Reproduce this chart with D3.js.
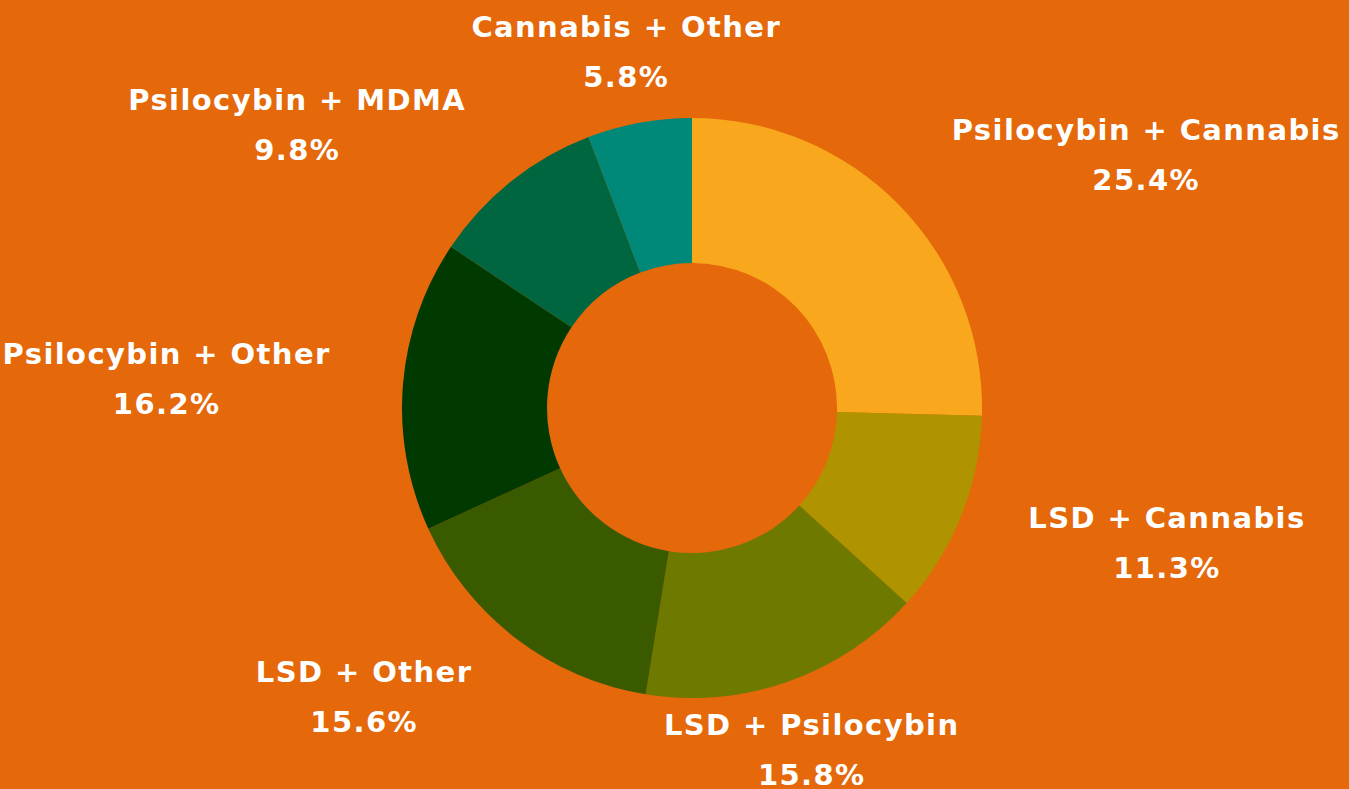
<!DOCTYPE html>
<html>
<head>
<meta charset="utf-8">
<script src="https://cdn.jsdelivr.net/npm/d3@7"></script>
<style>
  html, body { margin: 0; padding: 0; background: #e5680a; }
  svg { display: block; }
  .lbl { font-family: "DejaVu Sans", sans-serif; font-weight: bold; fill: #fff; letter-spacing: 1.4px; }
</style>
</head>
<body>
<svg id="chart"></svg>
<script>
// data (share of respondents, %)
var categories = ["Psilocybin + Cannabis", "LSD + Cannabis", "LSD + Psilocybin", "LSD + Other",
                  "Psilocybin + Other", "Psilocybin + MDMA", "Cannabis + Other"];
var shares = [25.4, 11.3, 15.8, 15.6, 16.2, 9.8, 5.8];
var colors = ["#f9a81e", "#af9400", "#6e7900", "#3a5a00", "#003a00", "#006640", "#008878"];

var width = 1349;
var height = 789;
var cx = 692, cy = 408;
var outer = 290, inner = 145;

var svg = d3.select("#chart").attr("width", width).attr("height", height);

svg.append("rect")
  .attr("width", width)
  .attr("height", height)
  .attr("fill", "#e5680a");

var data = categories.map(function(c, i) {
  return { name: c, value: shares[i], color: colors[i] };
});

var pie = d3.pie().sort(null).value(function(d) { return d.value; });
var arc = d3.arc().innerRadius(inner).outerRadius(outer);

var g = svg.append("g").attr("transform", "translate(" + cx + "," + cy + ")");
var slices = pie(data);

g.selectAll("path")
  .data(slices)
  .enter()
  .append("path")
  .attr("d", arc)
  .attr("fill", function(d) { return d.data.color; });

// labels sit at 1.25 x the outer radius, pushed away from the donut
var labelR = outer * 1.25;
var lab = g.selectAll("text")
  .data(slices)
  .enter()
  .append("text")
  .attr("class", "lbl")
  .style("font-size", "29px")
  .attr("text-anchor", "middle")
  .attr("transform", function(d) {
    var a = (d.startAngle + d.endAngle) / 2;
    return "translate(" + (Math.sin(a) * labelR) + "," + (-Math.cos(a) * labelR) + ")";
  });

lab.append("tspan")
  .attr("y", -25)
  .attr("dy", "0.35em")
  .text(function(d) { return d.data.name; });

lab.append("tspan")
  .attr("y", 25)
  .attr("dy", "0.35em")
  .text(function(d) { return d.data.value.toFixed(1) + "%"; });

// two centred lines; the block as a whole starts/ends at the label point
lab.each(function(d) {
  var s = Math.sin((d.startAngle + d.endAngle) / 2);
  var w = 0;
  d3.select(this).selectAll("tspan").each(function() {
    w = Math.max(w, this.getComputedTextLength());
  });
  var shift = Math.abs(s) < 0.5 ? 0 : (s > 0 ? w / 2 : -w / 2);
  d3.select(this).selectAll("tspan").attr("x", shift);
});
</script>
</body>
</html>
